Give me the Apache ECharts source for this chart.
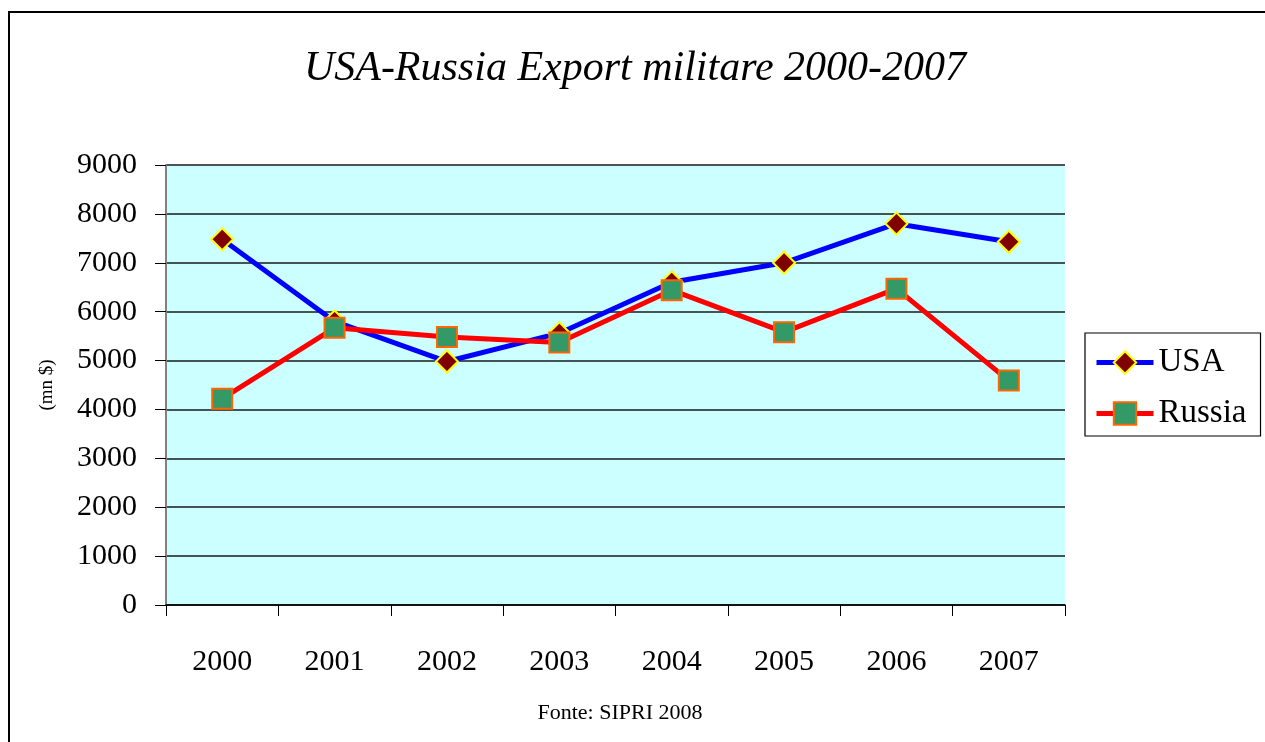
<!DOCTYPE html>
<html>
<head>
<meta charset="utf-8">
<title>USA-Russia Export militare 2000-2007</title>
<script src="https://cdn.jsdelivr.net/npm/echarts@6/dist/echarts.min.js"></script>
<style>
  html, body { margin: 0; padding: 0; background: #fff; }
  #frame {
    position: absolute; left: 8px; top: 11px; width: 1300px; height: 800px;
    border: 2px solid #000; box-sizing: border-box;
  }
  #chart { position: absolute; left: 0; top: 0; width: 1265px; height: 742px; }
</style>
</head>
<body>
<div id="frame"></div>
<div id="chart"></div>
<script>
// Years on the category axis
const years = ['2000', '2001', '2002', '2003', '2004', '2005', '2006', '2007'];
// Military exports, millions of dollars
const usaExports = [7480, 5800, 4980, 5560, 6600, 7000, 7800, 7430];
const russiaExports = [4220, 5670, 5480, 5370, 6440, 5580, 6470, 4590];

const serif = '"Liberation Serif", "Times New Roman", serif';

const chart = echarts.init(document.getElementById('chart'), null, { renderer: 'canvas' });

chart.setOption({
  animation: false,
  title: [{
    text: 'USA-Russia Export militare 2000-2007',
    left: 630, top: 43, textAlign: 'center',
    textStyle: { fontFamily: serif, fontStyle: 'italic', fontWeight: 'normal', fontSize: 42, color: '#000' }
  }, {
    text: 'Fonte: SIPRI 2008',
    left: 615, top: 697, textAlign: 'center',
    textStyle: { fontFamily: serif, fontWeight: 'normal', fontSize: 22, color: '#000' }
  }],
  legend: {
    orient: 'vertical',
    left: 1085, top: 333,
    padding: [13, 14, 6, 9],
    itemGap: 18,
    itemWidth: 57, itemHeight: 28,
    borderColor: '#000', borderWidth: 1.2,
    backgroundColor: '#fff',
    lineStyle: { width: 5 },
    textStyle: { fontFamily: serif, fontSize: 33, color: '#000' },
    data: ['USA', 'Russia']
  },
  grid: { left: 166, right: 200, top: 165, bottom: 137, show: true, backgroundColor: '#CCFFFF', borderWidth: 0 },
  xAxis: {
    type: 'category',
    data: years,
    boundaryGap: true,
    axisLine: { lineStyle: { color: '#000', width: 1.5 } },
    axisTick: { show: true, length: 11, lineStyle: { color: '#000', width: 1 } },
    axisLabel: { fontFamily: serif, fontSize: 30, color: '#000', margin: 42 }
  },
  yAxis: {
    type: 'value',
    min: 0, max: 9000, interval: 1000,
    name: '(mn $)',
    nameLocation: 'middle',
    nameGap: 109,
    nameTextStyle: { fontFamily: serif, fontSize: 19, color: '#000' },
    axisLine: { show: true, lineStyle: { color: '#808080', width: 2 } },
    axisTick: { show: true, length: 11, lineStyle: { color: '#000', width: 1 } },
    axisLabel: { fontFamily: serif, fontSize: 30, color: '#000', margin: 29, formatter: (v) => String(v) },
    splitLine: { show: true, lineStyle: { color: '#1a1a1a', width: 1.5 } }
  },
  series: [{
    name: 'USA',
    type: 'line',
    data: usaExports,
    z: 2,
    symbol: 'diamond',
    symbolSize: 22,
    lineStyle: { color: '#0000FF', width: 5 },
    itemStyle: { color: '#800000', borderColor: '#FFFF00', borderWidth: 2 }
  }, {
    name: 'Russia',
    type: 'line',
    data: russiaExports,
    z: 3,
    symbol: 'rect',
    symbolSize: 20,
    lineStyle: { color: '#FF0000', width: 5 },
    itemStyle: { color: '#339966', borderColor: '#FF6600', borderWidth: 2 }
  }]
});
</script>
</body>
</html>
